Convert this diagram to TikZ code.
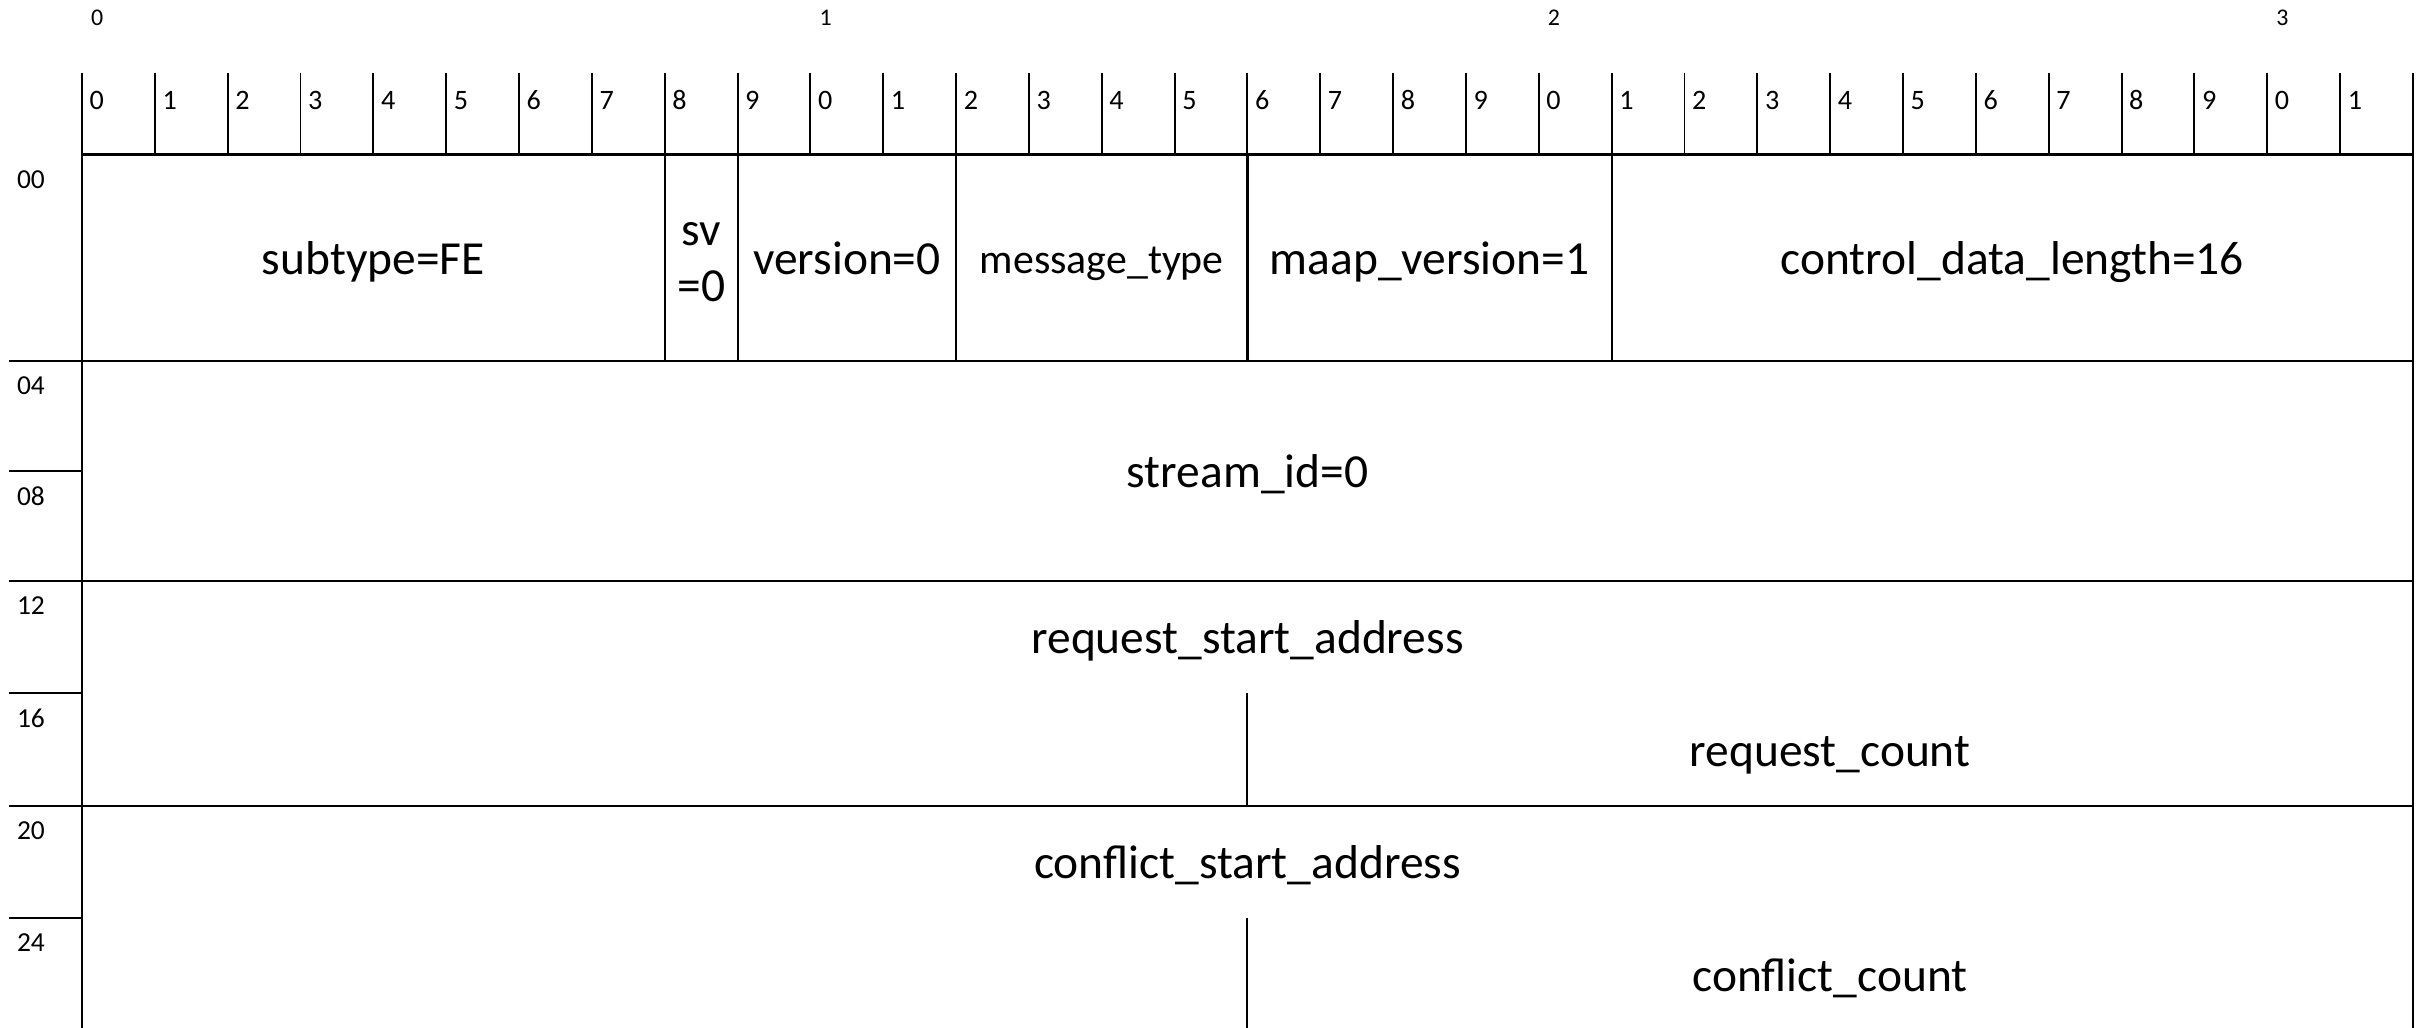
\documentclass[tikz,border=0pt]{standalone}
\usepackage{fontspec}
\setmainfont{Carlito}
\begin{document}
\begin{tikzpicture}[x=0.01cm,y=-0.01cm,line width=0.6pt,
  big/.style={font=\fontsize{13.5}{16}\selectfont,anchor=base,inner sep=0pt},
  medtext/.style={font=\fontsize{11.9}{14}\selectfont,anchor=base,inner sep=0pt},
  small/.style={font=\fontsize{8}{9.5}\selectfont,anchor=base,inner sep=0pt},
  tiny/.style={font=\fontsize{6.8}{8}\selectfont,anchor=base,inner sep=0pt},
  rowlabel/.style={font=\fontsize{7.8}{9}\selectfont,anchor=base west,inner sep=0pt},
  rule/.style={line width=0.6pt},
  thinrule/.style={line width=0.55pt}]
\useasboundingbox (0,0) rectangle (2422,1028);
% bit ruler
\foreach \i in {0,...,32}
  \draw[thinrule] ({82+\i*72.84},72.7) -- ({82+\i*72.84},154.5);
\foreach \i in {0,...,31}{
  \pgfmathtruncatemacro\d{mod(\i,10)}
  \node[small] (t\i) at ({82+\i*72.84+14.8},109.5) {\d};
}
\foreach \b/\i in {0/0,1/10,2/20,3/30}
  \node[tiny] (byte\b) at ({82+\i*72.84+15.2},25.5) {\b};
% borders
\draw[rule] (82,154.5) -- (82,1028);
\draw[rule] (2413,154.5) -- (2413,1028);
\draw[rule] (82,154.5) -- (2413,154.5);
% row separators
\draw[rule] (9,361) -- (2413,361);
\draw[rule] (9,471) -- (82,471);
\draw[rule] (9,580.7) -- (2413,580.7);
\draw[rule] (9,693) -- (82,693);
\draw[rule] (9,805.7) -- (2413,805.7);
\draw[rule] (9,917.7) -- (82,917.7);
% row 0 field dividers
\foreach \i in {8,9,12,16,21}
  \draw[rule] ({82+\i*72.84},154.5) -- ({82+\i*72.84},361);
% partial dividers at bit 16
\draw[thinrule] ({82+16*72.84},693) -- ({82+16*72.84},805.7);
\draw[thinrule] ({82+16*72.84},917.7) -- ({82+16*72.84},1028);
% row labels
\foreach \lab/\y in {00/154.5,04/361,08/471,12/580.7,16/693,20/805.7,24/917.7}
  \node[rowlabel] (r\lab) at (16,{\y+34}) {\lab};
% fields
\node[big] (subtype) at (373.4,275) {subtype=FE};
\node[big] (sva) at (701.2,246) {sv};
\node[big] (svb) at (701.2,301.7) {=0};
\node[big] (version) at (846.9,275) {version=0};
\node[medtext] (msgtype) at (1101.8,273.5) {message\_type};
\node[big] (maap) at (1429.5,275) {maap\_version=1};
\node[big] (cdl) at (2012.3,275) {control\_data\_length=16};
\node[big] (sid) at (1247.5,487.5) {stream\_id=0};
\node[big] (rsa) at (1247.5,653) {request\_start\_address};
\node[big] (rc) at (1830,766) {request\_count};
\node[big] (csa) at (1247.5,878) {conflict\_start\_address};
\node[big] (cc) at (1830,991) {conflict\_count};
\end{tikzpicture}
\end{document}
